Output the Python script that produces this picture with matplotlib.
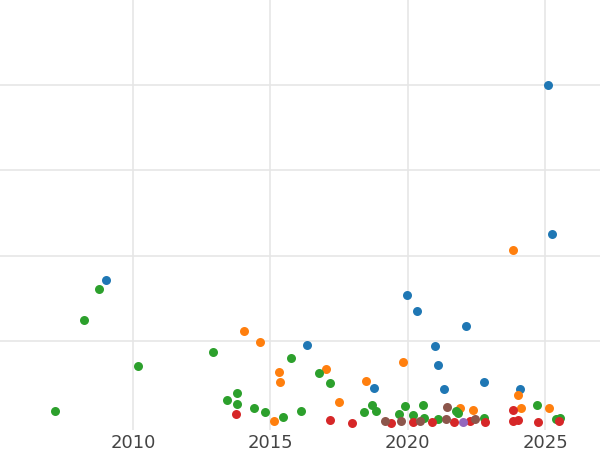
import matplotlib
matplotlib.use("Agg")
import matplotlib.pyplot as plt

# values (x = year, y = value in gridline units)
blue_x = [2025.11, 2025.25, 2009.02, 2019.98, 2020.34, 2022.12, 2016.34, 2021.0, 2021.1, 2022.78, 2018.77, 2021.32, 2024.09]
blue_y = [4.0, 2.26, 1.72, 1.54, 1.35, 1.18, 0.96, 0.95, 0.73, 0.53, 0.46, 0.44, 0.44]

orange_x = [2023.83, 2014.04, 2014.62, 2019.83, 2017.03, 2015.32, 2015.35, 2018.48, 2017.5, 2024.0, 2024.12, 2021.9, 2022.38, 2025.15, 2015.13]
orange_y = [2.07, 1.12, 0.99, 0.76, 0.68, 0.64, 0.53, 0.54, 0.29, 0.37, 0.22, 0.22, 0.2, 0.22, 0.07]

green_x = [2008.76, 2008.22, 2010.18, 2012.91, 2015.75, 2016.77, 2017.17, 2013.79, 2013.42, 2013.79, 2014.41, 2014.81,
           2015.46, 2016.12, 2007.16, 2018.41, 2018.7, 2018.85, 2019.68, 2019.9, 2020.19, 2020.56, 2020.6, 2021.1,
           2021.76, 2021.83, 2022.78, 2024.71, 2025.4, 2025.55]
green_y = [1.61, 1.25, 0.71, 0.88, 0.81, 0.63, 0.51, 0.4, 0.32, 0.27, 0.22, 0.18,
           0.12, 0.19, 0.19, 0.18, 0.26, 0.19, 0.15, 0.25, 0.14, 0.26, 0.1, 0.09,
           0.19, 0.16, 0.1, 0.26, 0.09, 0.1]

red_x = [2013.75, 2017.17, 2017.97, 2019.39, 2020.19, 2020.89, 2021.69, 2022.27, 2022.82, 2023.83, 2023.83, 2024.0, 2024.75, 2025.51]
red_y = [0.15, 0.08, 0.05, 0.05, 0.06, 0.06, 0.06, 0.07, 0.06, 0.2, 0.07, 0.08, 0.06, 0.07]

brown_x = [2019.18, 2019.76, 2020.45, 2021.43, 2021.4, 2022.45]
brown_y = [0.07, 0.07, 0.07, 0.23, 0.09, 0.09]

purple_x = [2022.0]
purple_y = [0.06]

series = [
    (blue_x, blue_y, "#1f77b4"),
    (orange_x, orange_y, "#ff7f0e"),
    (green_x, green_y, "#2ca02c"),
    (red_x, red_y, "#d62728"),
    (purple_x, purple_y, "#9467bd"),
    (brown_x, brown_y, "#8c564b"),
]

fig = plt.figure(figsize=(6, 4.5), dpi=100)
ax = fig.add_axes([0, 20 / 450, 1, 430 / 450])

for xs, ys, c in series:
    ax.scatter(xs, ys, s=42, color=c, zorder=3, linewidths=0, clip_on=False)

ax.set_xlim(2005.16, 2027.0)
ax.set_ylim(-0.035, 4.99)
ax.set_xticks([2010, 2015, 2020, 2025])
ax.set_yticks([1, 2, 3, 4])
ax.set_yticklabels([])
ax.tick_params(axis="both", length=0, labelsize=13, labelcolor="#444444", pad=3)
ax.grid(True, color="#e6e6e6", linewidth=1.2, zorder=0)
for s in ax.spines.values():
    s.set_visible(False)

fig.savefig("out.png", dpi=100)
